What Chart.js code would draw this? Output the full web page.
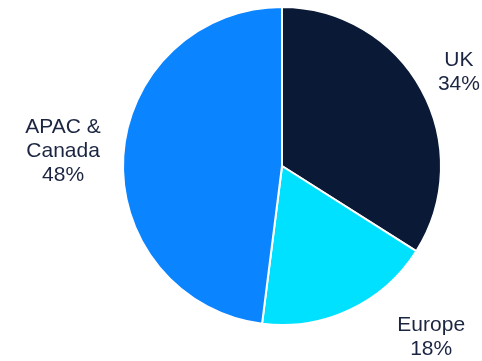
<!DOCTYPE html>
<html><head><meta charset="utf-8">
<script src="https://cdn.jsdelivr.net/npm/chart.js@4"></script>
<style>html,body{margin:0;padding:0;background:#fff}#wrap{width:482px;height:361px}</style>
</head><body><div id="wrap"><canvas id="c" width="482" height="361"></canvas></div>
<script>
const categories = ["UK", "Europe", "APAC & Canada"];
const values = [34, 18, 48];
const labelLines = [["UK", "34%"], ["Europe", "18%"], ["APAC &", "Canada", "48%"]];
const colors = ["#0A1A36", "#00E0FF", "#0A84FF"];
// label placement: distance factor of radius and angle adjust (radians)
const labelPlace = [{f: 1.26, da: 0.014}, {f: 1.43, da: -0.276}, {f: 1.38, da: 0.005}];

const labelPlugin = {
  id: 'outerLabels',
  afterDraw(chart) {
    const ctx = chart.ctx;
    const meta = chart.getDatasetMeta(0);
    ctx.save();
    ctx.fillStyle = '#1B2541';
    ctx.font = '21px "Liberation Sans", Arial, sans-serif';
    ctx.textAlign = 'center';
    ctx.textBaseline = 'middle';
    meta.data.forEach((arc, i) => {
      const p = arc.getProps(['x','y','startAngle','endAngle','outerRadius'], true);
      const mid = (p.startAngle + p.endAngle) / 2 + labelPlace[i].da;
      const r = p.outerRadius * labelPlace[i].f;
      const cx = p.x + Math.cos(mid) * r;
      const cy = p.y + Math.sin(mid) * r;
      const lines = labelLines[i];
      const lh = 24;
      lines.forEach((t, k) => {
        ctx.fillText(t, cx, cy + (k - (lines.length - 1) / 2) * lh);
      });
    });
    ctx.restore();
  }
};

new Chart(document.getElementById('c'), {
  type: 'pie',
  data: {
    labels: categories,
    datasets: [{ data: values, backgroundColor: colors, borderColor: '#ffffff', borderWidth: 2 }]
  },
  options: {
    responsive: false,
    animation: false,
    layout: { padding: { left: 82, right: 0, top: 6, bottom: 35 } },
    plugins: { legend: { display: false }, tooltip: { enabled: false } }
  },
  plugins: [labelPlugin]
});
</script></body></html>
